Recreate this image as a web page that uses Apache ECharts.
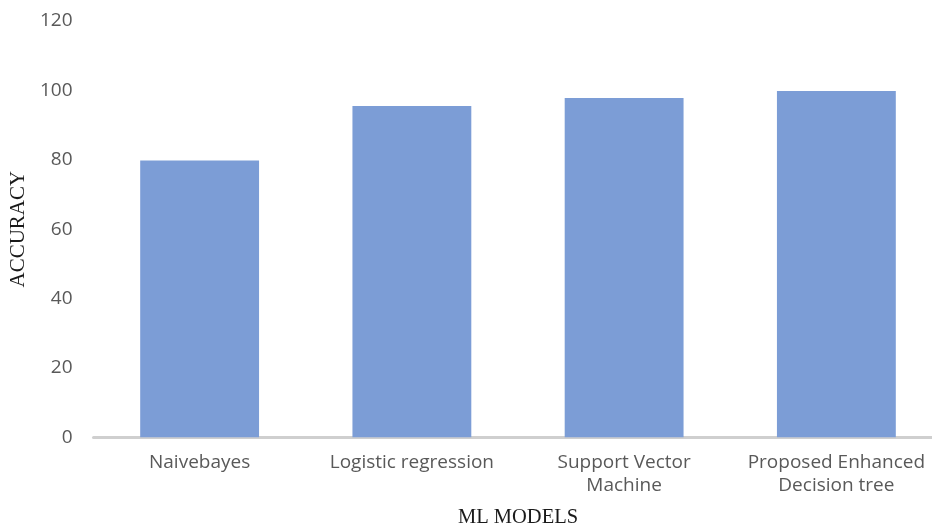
<!DOCTYPE html>
<html>
<head>
<meta charset="utf-8">
<script src="https://cdn.jsdelivr.net/npm/echarts@6/dist/echarts.min.js"></script>
<style>
html,body{margin:0;padding:0;background:#fff;}
#chart{width:932px;height:529px;}
</style>
</head>
<body>
<div id="chart"></div>
<script>
const categories = ['Naivebayes', 'Logistic regression', 'Support Vector\nMachine', 'Proposed Enhanced\nDecision tree'];
const accuracy = [79.8, 95.5, 97.8, 99.8];
const yTicks = { min: 0, max: 120, interval: 20 };

const chart = echarts.init(document.getElementById('chart'), null, { renderer: 'canvas' });
chart.setOption({
  animation: false,
  backgroundColor: '#ffffff',
  grid: { left: 93.5, width: 849, top: 21, height: 416.3, containLabel: false, outerBoundsMode: 'none' },
  xAxis: {
    type: 'category',
    data: categories,
    name: 'ML MODELS',
    nameLocation: 'middle',
    nameGap: 70,
    nameTextStyle: { fontFamily: 'Liberation Serif', fontSize: 20.5, color: '#1a1a1a' },
    axisLine: { show: true, lineStyle: { color: '#cfcfcf', width: 3 } },
    axisTick: { show: false },
    axisLabel: {
      interval: 0,
      margin: 14,
      fontFamily: 'Open Sans',
      fontSize: 19,
      lineHeight: 23,
      color: '#595959'
    },
    splitLine: { show: false }
  },
  yAxis: {
    type: 'value',
    min: yTicks.min,
    max: yTicks.max,
    interval: yTicks.interval,
    name: 'ACCURACY',
    nameLocation: 'middle',
    nameRotate: 90,
    nameGap: 63,
    nameTextStyle: { fontFamily: 'Liberation Serif', fontSize: 21, color: '#1a1a1a' },
    axisLine: { show: false },
    axisTick: { show: false },
    splitLine: { show: false },
    axisLabel: {
      margin: 21,
      fontFamily: 'Open Sans',
      fontSize: 19,
      color: '#595959'
    }
  },
  series: [{
    type: 'bar',
    data: accuracy,
    barCategoryGap: '44%',
    itemStyle: { color: '#7c9dd6' }
  }]
});
</script>
</body>
</html>
